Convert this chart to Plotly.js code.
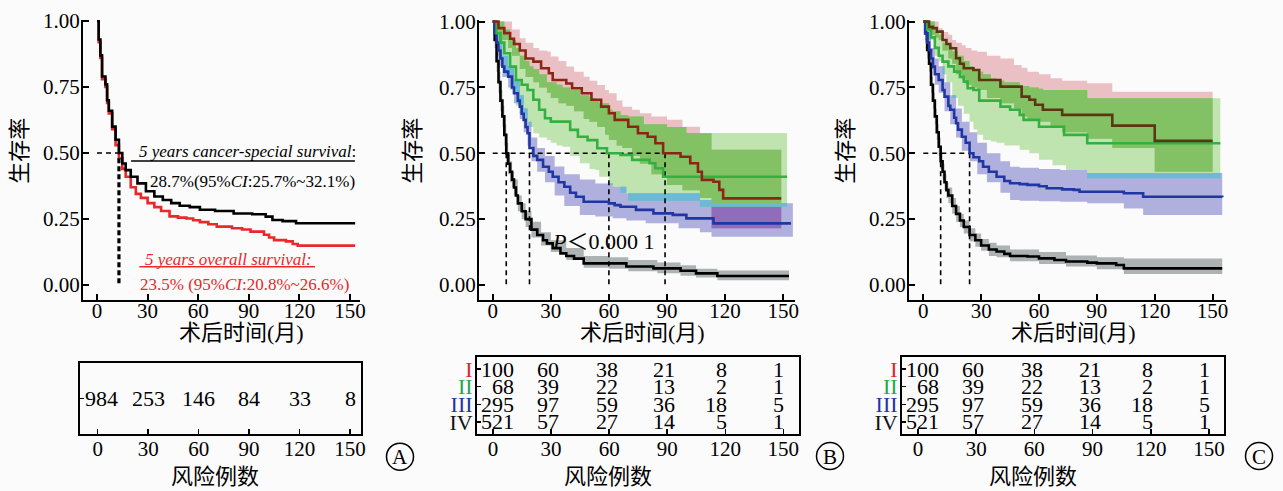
<!DOCTYPE html>
<html><head><meta charset="utf-8">
<script src="https://cdn.plot.ly/plotly-3.0.1.min.js"></script>
<style>html,body{margin:0;padding:0;background:#fbfbfb;}#chart{width:1283px;height:491px;}</style>
</head><body><div id="chart"></div>
<script>
// ---------- shared ----------
const TIMES = [0, 30, 60, 90, 120, 150];
const Y_TICKS = [0, 0.25, 0.5, 0.75, 1];
const Y_LABELS = ['0.00', '0.25', '0.50', '0.75', '1.00'];
const STAGES = ['I', 'II', 'III', 'IV'];
const STAGE_COLORS = ['#e3232a', '#22a84a', '#2233a8', '#111111'];

// ---------- panel A ----------
const A_css_t = [0,1,2,3,5,6,7,9,11,13,15,17,20,24,29,34,39,44,49,55,61,70,81,92,100,104,110,118,153];
const A_css_s = [1,.93,.87,.79,.76,.70,.66,.60,.55,.50,.46,.435,.41,.385,.355,.335,.322,.31,.30,.295,.285,.28,.271,.268,.259,.246,.242,.234,.234];
const A_os_t = [0,1,2,3,5,6,7,9,11,13,15,17,20,23,26,30,34,38,43,48,53,57,61,66,71,80,86,91,99,102,105,112,116,119,153];
const A_os_s = [1,.92,.86,.78,.75,.69,.65,.59,.53,.48,.44,.41,.37,.345,.33,.31,.295,.28,.26,.255,.252,.245,.238,.23,.221,.215,.21,.202,.19,.18,.17,.165,.155,.149,.149];
const A_median = 13;
const A_risk = [984, 253, 146, 84, 33, 8];
const A_css_label = '<i>5 years cancer-special survival</i>:';
const A_css_value = '28.7%(95%<i>CI</i>:25.7%~32.1%)';
const A_os_label = '<i>5 years overall survival:</i>';
const A_os_value = '23.5% (95%<i>CI</i>:20.8%~26.6%)';

// ---------- panel B ----------
const B_I_t = [0,3,6,9,11,14,17,21,25,29,31,38,41,46,51,56,60,63,70,75,80,84,88,97,102,106,108,114,117,119,149];
const B_I_s = [1,.975,.956,.935,.915,.89,.86,.848,.823,.804,.778,.765,.747,.728,.703,.677,.652,.627,.601,.576,.563,.538,.5,.487,.462,.43,.399,.392,.361,.329,.329];
const B_II_t = [0,2,4,6,9,12,15,18,21,24,27,30,40,44,49,54,59,66,72,81,84,88,152];
const B_II_s = [1,.956,.92,.88,.829,.778,.76,.74,.703,.665,.633,.62,.589,.563,.55,.519,.5,.494,.475,.462,.443,.411,.411];
const B_III_t = [0,1,2,3,4,5,6,8,10,11,13,14,15,16,17,18,19,21,23,26,29,31,34,37,40,43,47,60,63,66,74,83,93,100,114,154];
const B_III_s = [1,.956,.92,.89,.86,.829,.81,.791,.75,.728,.70,.677,.65,.627,.60,.576,.52,.49,.475,.449,.43,.411,.39,.373,.35,.335,.316,.31,.303,.297,.285,.272,.266,.253,.234,.234];
const B_IV_t = [0,1,2,3,4,5,6,7,8,9,10,11,12,13,15,17,20,23,26,28,31,35,38,42,47,59,69,83,97,105,116,153];
const B_IV_s = [1,.93,.85,.77,.70,.64,.57,.50,.46,.43,.40,.37,.34,.31,.28,.25,.21,.19,.17,.158,.14,.12,.11,.10,.082,.082,.07,.063,.054,.044,.034,.034];
// confidence bands
const B_I_band_t = [0,3,8,10,14,17,21,24,28,30,34,38,42,47,50,54,58,60,64,67,72,76,82,90,98,107,113,149];
const B_I_up =     [1,1,1,.97,.937,.92,.90,.89,.886,.867,.85,.829,.81,.791,.775,.759,.74,.728,.70,.677,.665,.652,.64,.627,.601,.576,.513,.513];
const B_I_lo =     [1,.93,.90,.87,.82,.79,.77,.75,.73,.71,.69,.68,.66,.63,.62,.60,.57,.55,.53,.52,.49,.46,.42,.38,.36,.33,.215,.215];
const B_II_band_t = [0,2,4,6,9,12,14,17,19,21,24,28,30,33,36,40,45,50,53,55,60,62,66,70,78,90,100,107,152];
const B_II_up =     [1,1,1,.97,.93,.90,.87,.85,.83,.82,.80,.77,.77,.76,.75,.74,.72,.71,.70,.69,.665,.66,.645,.64,.61,.60,.577,.577,.577];
const B_II_lo =     [1,.92,.86,.80,.74,.68,.65,.62,.60,.576,.56,.55,.54,.53,.525,.49,.462,.44,.437,.411,.38,.373,.35,.32,.32,.32,.32,.297,.297];
const B_III_band_t = [0,1,2,3,5,8,11,14,16,18,20,23,27,32,37,45,53,62,69,79,96,107,113,155];
const B_III_up =     [1,.98,.95,.93,.87,.83,.78,.72,.67,.62,.56,.52,.49,.45,.42,.40,.385,.373,.348,.348,.348,.323,.31,.31];
const B_III_lo =     [1,.93,.87,.83,.79,.75,.69,.63,.58,.53,.47,.43,.39,.34,.30,.266,.26,.253,.245,.234,.215,.2,.183,.183];
const B_IV_band_t = [0,1,2,3,4,5,6,7,8,9,10,11,13,15,17,20,25,30,38,47,60,70,85,97,105,116,153];
const B_IV_up =     [1,.96,.89,.81,.74,.68,.61,.54,.50,.47,.43,.40,.34,.31,.28,.24,.20,.17,.14,.11,.105,.095,.085,.075,.062,.055,.055];
const B_IV_lo =     [1,.90,.81,.73,.66,.60,.53,.46,.42,.39,.37,.34,.28,.25,.22,.18,.15,.125,.095,.065,.062,.052,.045,.035,.028,.018,.018];
const B_medians = [89, 60, 19, 7];
const B_pvalue = '<i>P</i>＜0.000 1';

// ---------- panel C ----------
const C_I_t = [0,3,5,7,10,12,14,17,19,21,26,29,40,51,55,58,62,72,98,120,150];
const C_I_s = [1,.98,.975,.962,.93,.915,.899,.861,.84,.823,.816,.778,.753,.715,.703,.684,.665,.646,.605,.547,.547];
const C_II_t = [0,2,4,6,8,10,13,16,19,21,23,26,29,40,45,50,52,60,73,85,154];
const C_II_s = [1,.97,.94,.90,.87,.848,.83,.81,.79,.772,.747,.74,.70,.677,.665,.646,.627,.601,.57,.538,.538];
const C_III_t = [0,1,2,3,4,5,6,8,10,11,13,14,16,17,18,20,22,24,26,29,31,34,38,42,45,50,54,60,64,72,78,81,92,104,114,155];
const C_III_s = [1,.956,.92,.892,.86,.829,.80,.778,.74,.715,.68,.665,.635,.614,.59,.563,.54,.50,.485,.47,.449,.43,.411,.395,.386,.383,.38,.375,.367,.363,.361,.354,.354,.348,.335,.333];
const C_IV_t = [0,1,2,3,4,5,6,7,8,9,10,11,12,13,15,17,19,21,24,27,30,34,38,42,45,54,60,68,74,85,90,100,104,155];
const C_IV_s = [1,.956,.892,.84,.76,.70,.64,.58,.525,.47,.43,.39,.36,.34,.30,.27,.245,.22,.19,.17,.15,.135,.127,.118,.11,.108,.101,.095,.089,.085,.082,.076,.063,.063];
const C_I_band_t = [0,3,6,8,10,13,15,17,20,22,25,28,33,40,47,51,54,60,66,72,85,98,120,150];
const C_I_up =     [1,1,1,.975,.96,.95,.93,.92,.91,.90,.89,.885,.87,.86,.835,.825,.81,.80,.785,.775,.766,.734,.734,.734];
const C_I_lo =     [1,.95,.94,.93,.89,.86,.84,.80,.78,.76,.75,.74,.71,.69,.67,.64,.63,.62,.60,.58,.555,.52,.43,.43];
const C_II_band_t = [0,2,6,8,10,12,15,18,21,24,26,28,31,35,38,42,50,55,60,62,67,74,85,154];
const C_II_up =     [1,1,.96,.95,.92,.91,.886,.87,.85,.83,.82,.81,.80,.785,.775,.77,.755,.75,.745,.74,.74,.74,.709,.709];
const C_II_lo =     [1,.93,.87,.85,.80,.77,.71,.68,.65,.62,.59,.57,.55,.545,.54,.53,.513,.50,.475,.475,.455,.437,.405,.405];
const C_III_band_t = [0,1,2,4,6,8,11,14,17,20,24,28,33,40,45,50,60,71,85,104,114,155];
const C_III_up =     [1,.99,.96,.90,.86,.83,.77,.72,.67,.62,.58,.54,.50,.47,.449,.445,.44,.437,.425,.425,.425,.41];
const C_III_lo =     [1,.92,.88,.82,.76,.73,.66,.61,.56,.51,.47,.42,.39,.35,.323,.32,.318,.316,.31,.29,.266,.266];
const C_IV_band_t = [0,1,2,3,4,5,6,7,8,9,10,11,12,13,15,17,19,21,24,27,30,34,38,45,60,74,90,104,155];
const C_IV_up =     [1,.98,.92,.87,.79,.73,.67,.61,.56,.50,.46,.42,.39,.37,.33,.30,.27,.245,.215,.195,.175,.16,.15,.135,.125,.112,.105,.101,.101];
const C_IV_lo =     [1,.93,.86,.81,.73,.67,.61,.55,.49,.44,.40,.36,.33,.31,.27,.24,.22,.195,.165,.145,.13,.11,.105,.09,.08,.07,.06,.042,.042];
const C_medians = [24, 9];

// risk table (same numbers in B and C)
const risk_I = [100, 60, 38, 21, 8, 1];
const risk_II = [68, 39, 22, 13, 2, 1];
const risk_III = [295, 97, 59, 36, 18, 5];
const risk_IV = [521, 57, 27, 14, 5, 1];

// ---------- styles ----------
const SERIF = '"Liberation Serif", "Times New Roman", serif';
const CJK = '"Liberation Serif", "Noto Sans CJK SC", serif';
const COL = {
  pink: 'rgba(210,105,115,0.40)', lgreen: 'rgba(110,195,70,0.42)', blue: 'rgba(95,95,190,0.48)', gray: 'rgba(110,118,118,0.55)',
  dgreen: 'rgba(128,194,98,0.96)', teal: 'rgba(105,185,222,0.92)', purple: 'rgba(140,105,188,0.92)',
  lineI_B: '#8a2616', lineI_C: '#5c3512', lineII: '#33b040', lineIII: '#1f36a3', lineIV: '#000000', red: '#e8282a'
};

// ---------- helpers ----------
function stepAt(ts, vs, t) { let v = vs[0]; for (let i = 0; i < ts.length; i++) { if (ts[i] <= t + 1e-9) v = vs[i]; else break; } return v; }
function band(t, lo, up) { return {t: t, lo: lo, up: up}; }
function overlap(a, b) {
  const start = Math.max(a.t[0], b.t[0]);
  const end = Math.min(a.t[a.t.length - 1], b.t[b.t.length - 1]);
  const grid = Array.from(new Set(a.t.concat(b.t))).filter(t => t >= start && t <= end).sort((p, q) => p - q);
  const lo = [], up = [];
  grid.forEach(t => {
    const l = Math.max(stepAt(a.t, a.lo, t), stepAt(b.t, b.lo, t));
    let u = Math.min(stepAt(a.t, a.up, t), stepAt(b.t, b.up, t));
    if (u < l) u = l;
    lo.push(l); up.push(u);
  });
  return band(grid, lo, up);
}
function bandTraces(b, color, xa, ya) {
  const base = {mode: 'lines', hoverinfo: 'skip', showlegend: false, xaxis: xa, yaxis: ya};
  return [
    Object.assign({}, base, {x: b.t, y: b.lo, line: {width: 0, shape: 'hv'}}),
    Object.assign({}, base, {x: b.t, y: b.up, line: {width: 0, shape: 'hv'}, fill: 'tonexty', fillcolor: color})
  ];
}
function curve(t, s, color, xa, ya, w) {
  return {x: t, y: s, mode: 'lines', line: {color: color, width: w || 2.6, shape: 'hv'}, hoverinfo: 'skip', showlegend: false, xaxis: xa, yaxis: ya};
}
function medianTraces(meds, xa, ya) {
  const vx = [], vy = [];
  meds.forEach(m => { vx.push(m, m, null); vy.push(0.5, 0, null); });
  const st = {color: '#000', width: 1.6, dash: '5px,4px'};
  return [
    {x: [0, Math.max.apply(null, meds)], y: [0.5, 0.5], mode: 'lines', line: st, hoverinfo: 'skip', showlegend: false, xaxis: xa, yaxis: ya},
    {x: vx, y: vy, mode: 'lines', line: st, hoverinfo: 'skip', showlegend: false, xaxis: xa, yaxis: ya}
  ];
}
function stageGroup(bands, lines, lineColors, xa, ya, medians) {
  let tr = [];
  tr = tr.concat(bandTraces(bands[3], COL.gray, xa, ya));
  tr = tr.concat(bandTraces(bands[2], COL.blue, xa, ya));
  tr = tr.concat(bandTraces(bands[0], COL.pink, xa, ya));
  tr = tr.concat(bandTraces(bands[1], COL.lgreen, xa, ya));
  tr = tr.concat(bandTraces(overlap(bands[0], bands[2]), COL.purple, xa, ya));
  tr = tr.concat(bandTraces(overlap(bands[0], bands[1]), COL.dgreen, xa, ya));
  tr = tr.concat(bandTraces(overlap(bands[1], bands[2]), COL.teal, xa, ya));
  tr = tr.concat(medianTraces(medians, xa, ya));
  for (let k = 3; k >= 0; k--) tr.push(curve(lines[k][0], lines[k][1], lineColors[k], xa, ya));
  return tr;
}

// ---------- traces ----------
let traces = [];
traces.push(curve(A_os_t, A_os_s, COL.red, 'x', 'y'));
traces.push(curve(A_css_t, A_css_s, '#000', 'x', 'y'));
traces.push({x: [0, A_median], y: [0.5, 0.5], mode: 'lines', line: {color: '#000', width: 1.6, dash: '5px,4px'}, hoverinfo: 'skip', showlegend: false, xaxis: 'x', yaxis: 'y'});
traces.push({x: [A_median, A_median], y: [stepAt(A_os_t, A_os_s, A_median), 0], mode: 'lines', line: {color: '#000', width: 3.2, dash: '5px,3px'}, hoverinfo: 'skip', showlegend: false, xaxis: 'x', yaxis: 'y'});
traces = traces.concat(stageGroup(
  [band(B_I_band_t, B_I_lo, B_I_up), band(B_II_band_t, B_II_lo, B_II_up), band(B_III_band_t, B_III_lo, B_III_up), band(B_IV_band_t, B_IV_lo, B_IV_up)],
  [[B_I_t, B_I_s], [B_II_t, B_II_s], [B_III_t, B_III_s], [B_IV_t, B_IV_s]],
  [COL.lineI_B, COL.lineII, COL.lineIII, COL.lineIV], 'x2', 'y2', B_medians));
traces = traces.concat(stageGroup(
  [band(C_I_band_t, C_I_lo, C_I_up), band(C_II_band_t, C_II_lo, C_II_up), band(C_III_band_t, C_III_lo, C_III_up), band(C_IV_band_t, C_IV_lo, C_IV_up)],
  [[C_I_t, C_I_s], [C_II_t, C_II_s], [C_III_t, C_III_s], [C_IV_t, C_IV_s]],
  [COL.lineI_C, COL.lineII, COL.lineIII, COL.lineIV], 'x3', 'y3', C_medians));
['4', '5', '6'].forEach(k => traces.push({x: [0], y: [1], mode: 'markers', marker: {opacity: 0}, hoverinfo: 'skip', showlegend: false, xaxis: 'x' + k, yaxis: 'y' + k}));

// ---------- axes ----------
const W = 1283, H = 491;
const px = v => v / W, py = v => 1 - v / H;
function mainX(d0, d1, range, anchor) {
  return {domain: [px(d0), px(d1)], range: range, anchor: anchor, tickvals: TIMES, ticks: 'inside', ticklen: 6, tickwidth: 2, tickcolor: '#000',
    showline: true, linewidth: 2, linecolor: '#000', showgrid: false, zeroline: false, fixedrange: true, ticklabelstandoff: -9,
    tickfont: {family: SERIF, size: 21, color: '#000'}};
}
function mainY(range, anchor) {
  return {domain: [py(300), py(20)], range: range, anchor: anchor, tickvals: Y_TICKS, ticktext: Y_LABELS, ticks: 'inside', ticklen: 6, tickwidth: 2, tickcolor: '#000',
    showline: true, linewidth: 2, linecolor: '#000', showgrid: false, zeroline: false, fixedrange: true, ticklabelstandoff: -3,
    tickfont: {family: SERIF, size: 21, color: '#000'}};
}
function tableX(d0, d1, range, anchor) {
  return {domain: [px(d0), px(d1)], range: range, anchor: anchor, tickvals: TIMES, ticks: 'inside', ticklen: 5, tickwidth: 1.5, tickcolor: '#000',
    showline: true, mirror: true, linewidth: 2, linecolor: '#000', showgrid: false, zeroline: false, fixedrange: true, ticklabelstandoff: -5,
    tickfont: {family: SERIF, size: 21, color: '#000'}};
}
function tableY(top, range, anchor, vals, texts) {
  return {domain: [py(434), py(top)], range: range, anchor: anchor, tickvals: vals, ticktext: texts, ticks: 'inside', ticklen: 4, tickwidth: 1.5, tickcolor: '#000',
    showline: true, mirror: true, linewidth: 2, linecolor: '#000', showgrid: false, zeroline: false, fixedrange: true, ticklabelstandoff: -2,
    tickfont: {family: SERIF, size: 22, color: '#000'}};
}
const stageTicks = STAGES.map((s, i) => '<span style="color:' + STAGE_COLORS[i] + '">' + s + '</span>');

// ---------- annotations ----------
const ann = [];
function txt(x, y, text, opt) {
  ann.push(Object.assign({x: x, y: y, text: text, showarrow: false, xref: 'paper', yref: 'paper', xanchor: 'center', yanchor: 'middle',
    font: {family: CJK, size: 22, color: '#000'}}, opt || {}));
}
[[20, 0.6929], [413, 0.6929], [846, 0.6929]].forEach(p => txt(px(p[0]), p[1], '生存率', {textangle: -90}));
[241, 643, 1073].forEach(x => txt(px(x), py(332), '术后时间(月)'));
[215, 608, 1033].forEach(x => txt(px(x), py(476), '风险例数'));
[['A', 400], ['B', 830], ['C', 1259]].forEach(p => txt(px(p[1]), py(456.5), p[0], {font: {family: SERIF, size: 21, color: '#000'}}));
const noteFont = {family: SERIF, size: 17, color: '#000'};
const redFont = {family: SERIF, size: 17, color: COL.red};
ann.push({xref: 'x', yref: 'y', x: 23.5, y: 0.505, text: A_css_label, showarrow: false, xanchor: 'left', yanchor: 'middle', font: noteFont});
ann.push({xref: 'x', yref: 'y', x: 30.0, y: 0.391, text: A_css_value, showarrow: false, xanchor: 'left', yanchor: 'middle', font: noteFont});
ann.push({xref: 'x', yref: 'y', x: 27.5, y: 0.095, text: A_os_label, showarrow: false, xanchor: 'left', yanchor: 'middle', font: redFont});
ann.push({xref: 'x', yref: 'y', x: 24.5, y: 0.0, text: A_os_value, showarrow: false, xanchor: 'left', yanchor: 'middle', font: redFont});
ann.push({xref: 'x2', yref: 'y2', x: 29.6, y: 0.164, text: B_pvalue, showarrow: false, xanchor: 'left', yanchor: 'middle', font: {family: CJK, size: 22, color: '#000'}});
const numFont = {family: SERIF, size: 22, color: '#000'};
const colShiftA = [4, 0, 0, 0, 0, 0];
A_risk.forEach((v, j) => ann.push({xref: 'x4', yref: 'y4', x: TIMES[j], y: 1, text: String(v), showarrow: false, xanchor: 'center', yanchor: 'middle', xshift: colShiftA[j], font: numFont}));
const colShiftBC = [23, 10, 11, 10, 4, 3];
[risk_I, risk_II, risk_III, risk_IV].forEach((row, i) => {
  row.forEach((v, j) => {
    ['5', '6'].forEach(k => ann.push({xref: 'x' + k, yref: 'y' + k, x: TIMES[j], y: 4 - i, text: String(v), showarrow: false,
      xanchor: 'right', yanchor: 'middle', xshift: colShiftBC[j], font: numFont}));
  });
});

// ---------- shapes ----------
const shapes = [
  {type: 'line', xref: 'x', yref: 'y', x0: 20.2, x1: 152.9, y0: 0.47, y1: 0.47, line: {color: '#000', width: 1.5}},
  {type: 'line', xref: 'x', yref: 'y', x0: 25.1, x1: 129.2, y0: 0.069, y1: 0.069, line: {color: COL.red, width: 1.5}}
];
[[400, 456.7], [830, 456], [1259, 456]].forEach(c => shapes.push({type: 'circle', xref: 'paper', yref: 'paper',
  x0: px(c[0] - 13.5), x1: px(c[0] + 13.5), y0: py(c[1] + 13.5), y1: py(c[1] - 13.5), line: {color: '#000', width: 1.5}}));

const layout = {
  width: W, height: H, autosize: false, margin: {l: 0, r: 0, t: 0, b: 0},
  paper_bgcolor: '#fbfbfb', plot_bgcolor: 'rgba(0,0,0,0)', showlegend: false,
  xaxis: mainX(83, 360, [-8.3, 155.9], 'y'), yaxis: mainY([-0.057, 1.004], 'x'),
  xaxis2: mainX(479, 795, [-7.07, 156.1], 'y2'), yaxis2: mainY([-0.057, 1.006], 'x2'),
  xaxis3: mainX(909, 1225.7, [-7.41, 156.8], 'y3'), yaxis3: mainY([-0.057, 1.006], 'x3'),
  xaxis4: tableX(80, 361, [-10.5, 156.5], 'y4'), yaxis4: tableY(363, [0, 2], 'x4', [1], ['']),
  xaxis5: tableX(477, 799, [-8.3, 158.1], 'y5'), yaxis5: tableY(357, [0.32, 4.68], 'x5', [4, 3, 2, 1], stageTicks),
  xaxis6: tableX(902, 1224, [-8.2, 157.7], 'y6'), yaxis6: tableY(357, [0.32, 4.68], 'x6', [4, 3, 2, 1], stageTicks),
  annotations: ann, shapes: shapes
};
Plotly.newPlot('chart', traces, layout, {staticPlot: true, displayModeBar: false});
</script></body></html>
